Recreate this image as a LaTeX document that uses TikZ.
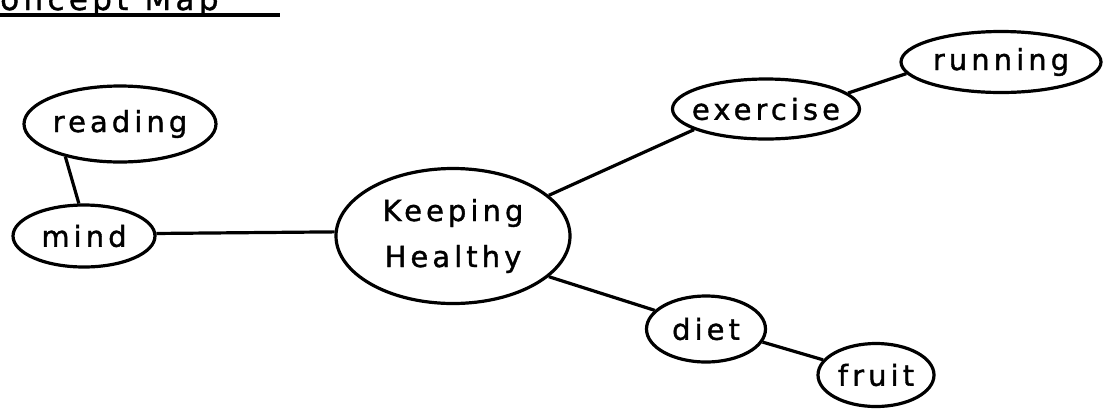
\documentclass[tikz,border=0pt]{standalone}
\usepackage{fontspec}
\setmainfont{DejaVu Sans}[LetterSpace=14, FakeBold=1.2]
\usetikzlibrary{shapes.geometric}
\begin{document}
\begin{tikzpicture}[x=1pt,y=-1pt,
  bubble/.style={ellipse, draw, line width=3.2pt, inner xsep=-30pt, inner ysep=0pt,
    font=\fontsize{29}{46}\selectfont},
  link/.style={line width=3.2pt},
  titletext/.style={anchor=base west, inner sep=0pt, font=\fontsize{31}{36}\selectfont}]
\useasboundingbox (0,0) rectangle (1107,408);
\clip (0,0) rectangle (1107,408);
% title (cut off at the top edge, as in the reference)
\node[titletext] (title) at (0,10) {\llap{C}oncept\hspace{16pt}Map};
\coordinate (ulA) at (0,15);
\coordinate (ulB) at (280,15);
\draw[link] (ulA) -- (ulB);
% nodes
\node[bubble, minimum width=192pt, minimum height=76pt] (reading) at (120,124) {reading};
\node[bubble, minimum width=142pt, minimum height=62pt] (mind) at (84,236) {mind};
\node[bubble, minimum width=234pt, minimum height=135pt, align=center] (keep) at (453,236) {Keeping\\Healthy};
\node[bubble, minimum width=187pt, minimum height=60pt] (exercise) at (766,109) {exercise};
\node[bubble, minimum width=200pt, minimum height=61pt] (running) at (1001,62) {running};
\node[bubble, minimum width=119pt, minimum height=66pt] (diet) at (706,329) {diet};
\node[bubble, minimum width=116pt, minimum height=63pt] (fruit) at (876,375) {fruit};
% connectors
\draw[link] (reading.211) -- (mind.99);
\draw[link] (mind.2) -- (keep.178);
\draw[link] (keep.23) -- (exercise.196);
\draw[link] (exercise.11) -- (running.187);
\draw[link] (keep.337) -- (diet.160);
\draw[link] (diet.347) -- (fruit.164);
\end{tikzpicture}
\end{document}
